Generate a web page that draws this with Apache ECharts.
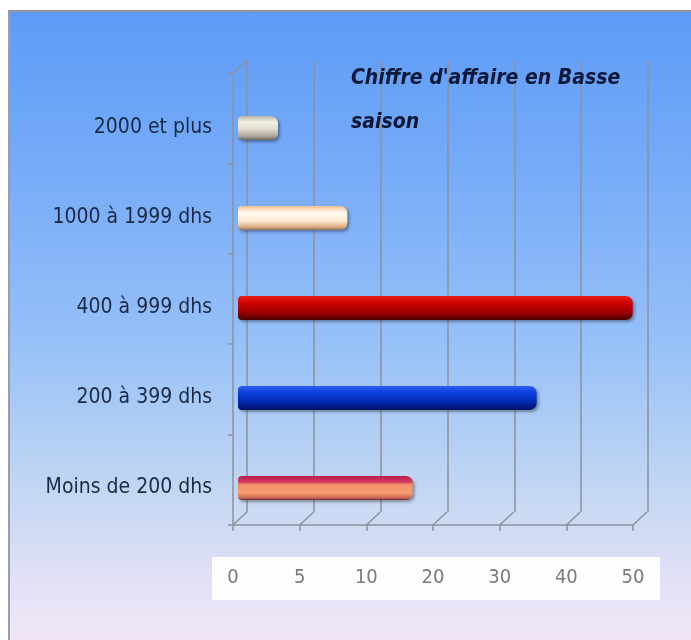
<!DOCTYPE html>
<html>
<head>
<meta charset="utf-8">
<script src="https://cdn.jsdelivr.net/npm/echarts@6/dist/echarts.min.js"></script>
<style>
  html, body { margin:0; padding:0; background:#ffffff; }
  #wrap { position:relative; width:691px; height:640px; overflow:hidden; }
  #bg { position:absolute; left:8px; top:10px; width:700px; height:660px;
        border-left:2px solid #9a9ea6; border-top:2px solid #8e939c;
        background: linear-gradient(to bottom, #5d9bf7 0%, #78acf8 25%, #96c1f8 50%, #c2d6f3 72%, #e6e2f6 88%, #f7e8f9 100%); }
  #labelbox { position:absolute; left:212px; top:557px; width:448px; height:43px; background:#fdfdfe; }
  #chart { position:absolute; left:0; top:0; width:691px; height:640px; }
</style>
</head>
<body>
<div id="wrap">
  <div id="bg"></div>
  <div id="labelbox"></div>
  <div id="chart"></div>
</div>
<script>
// Data
var categories = ["2000 et plus", "1000 à 1999 dhs", "400 à 999 dhs", "200 à 399 dhs", "Moins de 200 dhs"];
var values = [6, 16.4, 59.2, 44.8, 26.2];
var tickValues = [0, 10, 20, 30, 40, 50, 60];
var tickLabels = ["0", "5", "10", "20", "30", "40", "50"];
var titleText = "Chiffre d'affaire en Basse\nsaison";

// Styles
var barPalette = [
  [[0,'#b9b6a8'],[0.25,'#f3f1e4'],[0.55,'#e2dccd'],[0.85,'#a9a598'],[1,'#6a6862']],
  [[0,'#efc091'],[0.28,'#fffbf3'],[0.62,'#fde9d2'],[0.88,'#d9a97e'],[1,'#8a7664']],
  [[0,'#ea1c1c'],[0.3,'#cf0202'],[0.7,'#980000'],[1,'#4a0000']],
  [[0,'#2d5ff2'],[0.3,'#0b3cda'],[0.7,'#0028aa'],[1,'#00115e']],
  [[0,'#b81c4c'],[0.25,'#d43862'],[0.36,'#f3906c'],[0.7,'#f69c72'],[0.9,'#d06c56'],[1,'#6a2a3a']]
];
var gridColor = '#8c929c';
var depthDX = 14, depthDY = -13;

function grad(stops) {
  return new echarts.graphic.LinearGradient(0, 0, 0, 1,
    stops.map(function (s) { return { offset: s[0], color: s[1] }; }));
}

var chart = echarts.init(document.getElementById('chart'), null, { renderer: 'canvas' });

var narrow = "'Liberation Sans Narrow', 'DejaVu Sans Condensed', 'Open Sans', sans-serif";

var option = {
  backgroundColor: 'transparent',
  animation: false,
  title: {
    text: titleText,
    left: 346, top: 52,
    textStyle: { fontFamily: narrow, fontSize: 21, fontWeight: 'bold', fontStyle: 'italic', color: '#0b1838', lineHeight: 44 }
  },
  grid: [
    { left: 233, right: 58, top: 73, bottom: 115 },   // front
    { left: 247, right: 43, top: 60, bottom: 128 },   // back wall
    { left: 238, right: 53, top: 83, bottom: 107 }    // bars
  ],
  xAxis: [
    { gridIndex: 0, type: 'value', min: 0, max: 60, interval: 10,
      axisLine: { show: true, lineStyle: { color: gridColor, width: 1.5 } },
      axisTick: { show: true, length: 6, lineStyle: { color: gridColor, width: 1.5 } },
      splitLine: { show: false },
      axisLabel: { show: true, margin: 43, color: '#7a7a7a', fontFamily: narrow, fontSize: 20,
        formatter: function (v) { var i = tickValues.indexOf(v); return i >= 0 ? tickLabels[i] : ''; } } },
    { gridIndex: 1, type: 'value', min: 0, max: 60, interval: 10,
      axisLine: { show: false }, axisTick: { show: false }, axisLabel: { show: false },
      splitLine: { show: true, lineStyle: { color: gridColor, width: 1.5 } } },
    { gridIndex: 2, type: 'value', min: 0, max: 60, interval: 10, show: false }
  ],
  yAxis: [
    { gridIndex: 0, type: 'category', data: categories, inverse: true,
      axisLine: { show: true, lineStyle: { color: gridColor, width: 1.5 } },
      axisTick: { show: true, length: 5, lineStyle: { color: gridColor, width: 1.5 } },
      axisLabel: { show: false }, splitLine: { show: false } },
    { gridIndex: 1, type: 'category', data: categories, inverse: true, show: false },
    { gridIndex: 2, type: 'category', data: categories, inverse: true,
      axisLine: { show: false }, axisTick: { show: false },
      axisLabel: { show: true, margin: 26, color: '#1b2944', fontFamily: narrow, fontSize: 21 } }
  ],
  series: [
    {
      type: 'custom', xAxisIndex: 0, yAxisIndex: 0, silent: true, z: 1,
      data: tickValues.map(function (v) { return [v]; }),
      renderItem: function (params, api) {
        var cs = params.coordSys;
        var v = api.value(0);
        var x = api.coord([v, 0])[0];
        var yb = cs.y + cs.height;
        var children = [{
          type: 'line',
          shape: { x1: x, y1: yb, x2: x + depthDX, y2: yb + depthDY },
          style: { stroke: gridColor, lineWidth: 1.5 }
        }];
        if (v === tickValues[0]) {
          children.push({
            type: 'line',
            shape: { x1: x, y1: cs.y, x2: x + depthDX, y2: cs.y + depthDY },
            style: { stroke: gridColor, lineWidth: 1.5 }
          });
        }
        return { type: 'group', children: children };
      }
    },
    {
      type: 'bar', xAxisIndex: 2, yAxisIndex: 2, z: 3,
      barWidth: 24,
      data: values.map(function (v, i) {
        return { value: v, itemStyle: { color: grad(barPalette[i]) } };
      }),
      itemStyle: { borderRadius: [4, 7, 7, 4],
        shadowColor: 'rgba(0,0,0,0.35)', shadowBlur: 3, shadowOffsetX: 2, shadowOffsetY: 2 }
    }
  ]
};
chart.setOption(option);
</script>
</body>
</html>
